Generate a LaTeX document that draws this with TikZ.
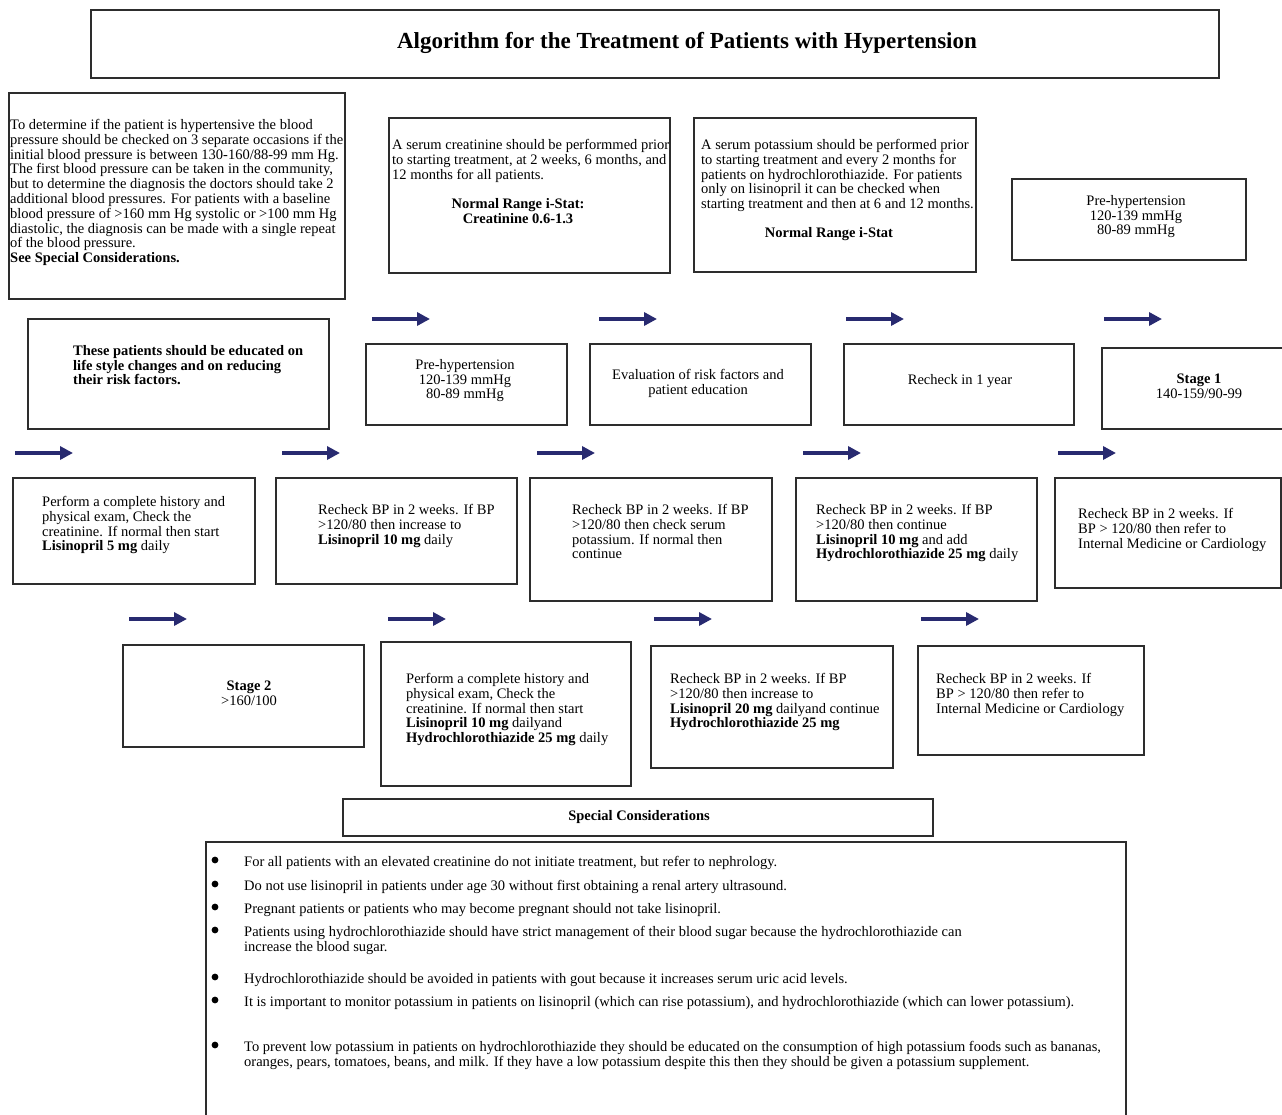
\documentclass[tikz,border=0pt]{standalone}
\usepackage{fontspec}
\setmainfont{Liberation Serif}
\usetikzlibrary{arrows.meta}
\definecolor{arrowblue}{RGB}{40,42,112}
\definecolor{boxline}{RGB}{45,45,45}

\begin{document}
\begin{tikzpicture}[x=1pt,y=-1pt,
    box/.style={draw=boxline,line width=1.6pt,anchor=north west,inner sep=0pt},
    txt/.style={inner sep=0pt,align=left,anchor=north west,font=\fontsize{14.5}{14.8}\selectfont},
    ctxt/.style={txt,align=center,anchor=north},
    barrow/.style={arrowblue,line width=4.5pt,-{Triangle[length=13pt,width=13pt]}}]
  \useasboundingbox (0,0) rectangle (1282,1115);

  % boxes
  \node[box,minimum width=1128,minimum height=68] (title) at (90,9) {};
  \node[box,minimum width=336,minimum height=206] (bA) at (8,92) {};
  \node[box,minimum width=281,minimum height=155] (bB) at (388,117) {};
  \node[box,minimum width=282,minimum height=154] (bC) at (693,117) {};
  \node[box,minimum width=234,minimum height=81] (bD) at (1011,178) {};
  \node[box,minimum width=301,minimum height=110] (bE) at (27,318) {};
  \node[box,minimum width=201,minimum height=81] (bF) at (365,343) {};
  \node[box,minimum width=221,minimum height=81] (bG) at (589,343) {};
  \node[box,minimum width=230,minimum height=81] (bH) at (843,343) {};
  \node[box,minimum width=190,minimum height=81] (bI) at (1101,347) {};
  \node[box,minimum width=242,minimum height=106] (bJ) at (12,477) {};
  \node[box,minimum width=241,minimum height=106] (bK) at (275,477) {};
  \node[box,minimum width=242,minimum height=123] (bL) at (529,477) {};
  \node[box,minimum width=241,minimum height=123] (bM) at (795,477) {};
  \node[box,minimum width=226,minimum height=110] (bN) at (1054,477) {};
  \node[box,minimum width=241,minimum height=102] (bO) at (122,644) {};
  \node[box,minimum width=250,minimum height=144] (bP) at (380,641) {};
  \node[box,minimum width=242,minimum height=122] (bQ) at (650,645) {};
  \node[box,minimum width=226,minimum height=109] (bR) at (917,645) {};
  \node[box,minimum width=590,minimum height=37] (bS) at (342,798) {};
  \node[box,minimum width=920,minimum height=290] (bT) at (205,841) {};

  % arrows
  \foreach \x/\y [count=\i] in {372/319,599/319,846/319,1104/319,
      15/453,282/453,537/453,803/453,1058/453,
      129/619,388/619,654/619,921/619}
    {\coordinate (s\i) at (\x,\y); \coordinate (e\i) at (\x+58,\y);
     \draw[barrow] (s\i) -- (e\i);}

  % texts
  \node[ctxt,font=\fontsize{23}{26}\selectfont\bfseries] (tTitle) at (687,32)
    {Algorithm for the Treatment of Patients with Hypertension};
  \node[txt] (tA) at (10,119) {To determine if the patient is hypertensive the blood\\
    pressure should be checked on 3 separate occasions if the\\
    initial blood pressure is between 130-160/88-99 mm Hg.\\
    The first blood pressure can be taken in the community,\\
    but to determine the diagnosis the doctors should take 2\\
    additional blood pressures. For patients with a baseline\\
    blood pressure of >160 mm Hg systolic or >100 mm Hg\\
    diastolic, the diagnosis can be made with a single repeat\\
    of the blood pressure.\\
    \textbf{See Special Considerations.}};
  \node[txt] (tB) at (392,139) {A serum creatinine should be performmed prior\\
    to starting treatment, at 2 weeks, 6 months, and\\
    12 months for all patients.};
  \node[ctxt,font=\fontsize{14.5}{14.8}\selectfont\bfseries] (tB2) at (518,198)
    {Normal Range i-Stat:\\Creatinine 0.6-1.3};
  \node[txt] (tC) at (701,139) {A serum potassium should be performed prior\\
    to starting treatment and every 2 months for\\
    patients on hydrochlorothiazide. For patients\\
    only on lisinopril it can be checked when\\
    starting treatment and then at 6 and 12 months.};
  \node[ctxt,font=\fontsize{14.5}{14.8}\selectfont\bfseries] (tC2) at (829,227)
    {Normal Range i-Stat};
  \node[ctxt] (tD) at (1136,195) {Pre-hypertension\\120-139 mmHg\\80-89 mmHg};
  \node[txt,font=\fontsize{14.5}{14.8}\selectfont\bfseries] (tE) at (73,345)
    {These patients should be educated on\\life style changes and on reducing\\their risk factors.};
  \node[ctxt] (tF) at (465,359) {Pre-hypertension\\120-139 mmHg\\80-89 mmHg};
  \node[ctxt] (tG) at (698,369) {Evaluation of risk factors and\\patient education};
  \node[ctxt] (tH) at (960,374) {Recheck in 1 year};
  \node[ctxt] (tI) at (1199,374) {\textbf{Stage 1}\\140-159/90-99};
  \node[txt] (tJ) at (42,496) {Perform a complete history and\\physical exam, Check the\\
    creatinine. If normal then start\\\textbf{Lisinopril 5 mg} daily};
  \node[txt] (tK) at (318,504) {Recheck BP in 2 weeks. If BP\\>120/80 then increase to\\
    \textbf{Lisinopril 10 mg} daily};
  \node[txt] (tL) at (572,504) {Recheck BP in 2 weeks. If BP\\>120/80 then check serum\\
    potassium. If normal then\\continue};
  \node[txt] (tM) at (816,504) {Recheck BP in 2 weeks. If BP\\>120/80 then continue\\
    \textbf{Lisinopril 10 mg} and add\\\textbf{Hydrochlorothiazide 25 mg} daily};
  \node[txt] (tN) at (1078,508) {Recheck BP in 2 weeks. If\\BP > 120/80 then refer to\\
    Internal Medicine or Cardiology};
  \node[ctxt] (tO) at (249,681) {\textbf{Stage 2}\\>160/100};
  \node[txt] (tP) at (406,673) {Perform a complete history and\\physical exam, Check the\\
    creatinine. If normal then start\\\textbf{Lisinopril 10 mg} dailyand\\
    \textbf{Hydrochlorothiazide 25 mg} daily};
  \node[txt] (tQ) at (670,673) {Recheck BP in 2 weeks. If BP\\>120/80 then increase to\\
    \textbf{Lisinopril 20 mg} dailyand continue\\\textbf{Hydrochlorothiazide 25 mg}};
  \node[txt] (tR) at (936,673) {Recheck BP in 2 weeks. If\\BP > 120/80 then refer to\\
    Internal Medicine or Cardiology};
  \node[ctxt,font=\fontsize{14.5}{14.8}\selectfont\bfseries] (tS) at (639,810)
    {Special Considerations};

  % special considerations list
  \foreach \y/\t [count=\i] in {
      856/{For all patients with an elevated creatinine do not initiate treatment, but refer to nephrology.},
      880/{Do not use lisinopril in patients under age 30 without first obtaining a renal artery ultrasound.},
      903/{Pregnant patients or patients who may become pregnant should not take lisinopril.},
      926/{Patients using hydrochlorothiazide should have strict management of their blood sugar because the hydrochlorothiazide can\\increase the blood sugar.},
      973/{Hydrochlorothiazide should be avoided in patients with gout because it increases serum uric acid levels.},
      996/{It is important to monitor potassium in patients on lisinopril (which can rise potassium), and hydrochlorothiazide (which can lower potassium).},
      1041/{To prevent low potassium in patients on hydrochlorothiazide they should be educated on the consumption of high potassium foods such as bananas,\\oranges, pears, tomatoes, beans, and milk. If they have a low potassium despite this then they should be given a potassium supplement.}}
    {\node[fill=black,circle,inner sep=2.4pt] (dot\i) at (215,\y+4) {};
     \node[txt] (item\i) at (244,\y) {\t};}
\end{tikzpicture}
\end{document}
